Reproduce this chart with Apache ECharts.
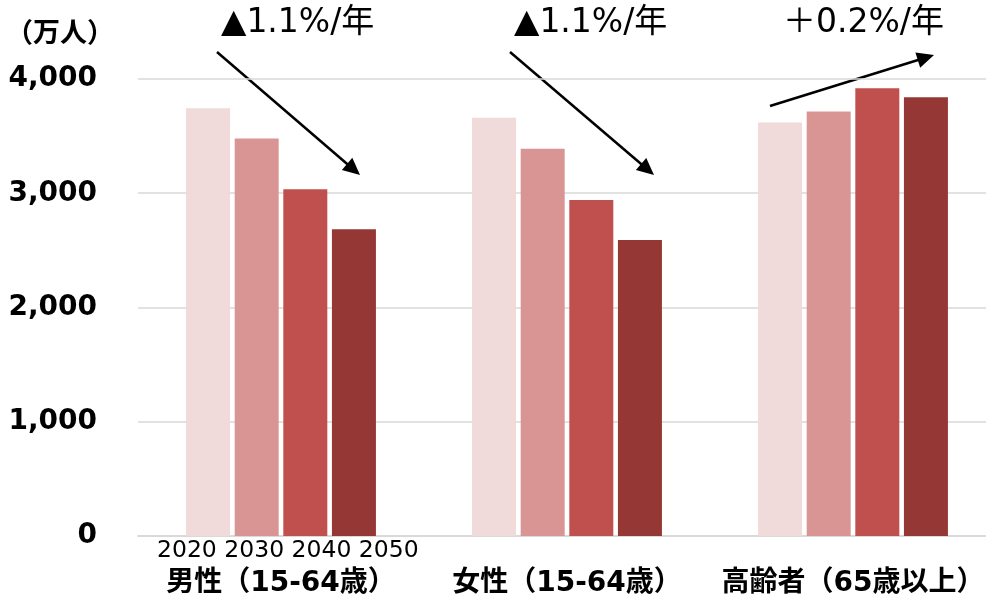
<!DOCTYPE html>
<html>
<head>
<meta charset="utf-8">
<script src="https://cdn.jsdelivr.net/npm/echarts@6/dist/echarts.min.js"></script>
<style>
  html, body { margin: 0; padding: 0; background: #fff; overflow: hidden; }
  #chart { width: 1000px; height: 598px; }
</style>
</head>
<body>
<div id="chart"></div>
<script>
// Working-age and elderly population by year (unit: 10,000 people)
const categories = ['男性（15-64歳）', '女性（15-64歳）', '高齢者（65歳以上）'];
const years = ['2020', '2030', '2040', '2050'];
const values2020 = [3745, 3660, 3620];
const values2030 = [3480, 3390, 3715];
const values2040 = [3035, 2940, 3920];
const values2050 = [2685, 2590, 3840];
const yTicks = { min: 0, max: 4000, interval: 1000 };
const unitLabel = '（万人）';
const trendLabels = ['▲1.1%/年', '▲1.1%/年', '＋0.2%/年'];

const seriesValues = [values2020, values2030, values2040, values2050];
const colors = ['#F0DADA', '#D99594', '#C0504D', '#953735'];

const LATIN = '"DejaVu Sans", "Noto Sans CJK JP", sans-serif';

// Arrow drawn as a line plus a triangular head
function arrow(x1, y1, x2, y2) {
  const dx = x2 - x1, dy = y2 - y1;
  const len = Math.sqrt(dx * dx + dy * dy);
  const ux = dx / len, uy = dy / len;
  const headLen = 17, headHalf = 8;
  const bx = x2 - ux * headLen, by = y2 - uy * headLen;
  const px = -uy, py = ux;
  return [
    {
      type: 'line',
      shape: { x1: x1, y1: y1, x2: bx + ux * 2, y2: by + uy * 2 },
      style: { stroke: '#000', lineWidth: 2.5 }
    },
    {
      type: 'polygon',
      shape: { points: [[x2, y2], [bx + px * headHalf, by + py * headHalf], [bx - px * headHalf, by - py * headHalf]] },
      style: { fill: '#000' }
    }
  ];
}

const chart = echarts.init(document.getElementById('chart'), null, { renderer: 'canvas' });

const option = {
  animation: false,
  backgroundColor: '#fff',
  grid: { left: 138, right: 4, top: 79, bottom: 62, containLabel: false },
  xAxis: {
    type: 'category',
    data: categories,
    axisLine: { show: true, lineStyle: { color: '#d9d9d9', width: 2 } },
    axisTick: { show: false },
    axisLabel: {
      margin: 34,
      color: '#000',
      fontSize: 28,
      fontWeight: 'bold',
      fontFamily: LATIN,
      interval: 0
    }
  },
  yAxis: {
    type: 'value',
    min: yTicks.min,
    max: yTicks.max,
    interval: yTicks.interval,
    axisLine: { show: false },
    axisTick: { show: false },
    splitLine: { lineStyle: { color: '#d9d9d9', width: 1.5 } },
    axisLabel: {
      margin: 41,
      color: '#000',
      fontSize: 28,
      fontWeight: 'bold',
      fontFamily: LATIN,
      formatter: v => v.toLocaleString('en-US')
    }
  },
  series: seriesValues.map((vals, i) => ({
    name: years[i],
    type: 'bar',
    data: vals,
    barWidth: 44,
    barGap: '10.5%',
    itemStyle: { color: colors[i] }
  })),
  graphic: [
    {
      type: 'text',
      x: 6, y: 35,
      style: { text: unitLabel, fill: '#000', font: 'bold 27px ' + LATIN, verticalAlign: 'middle' }
    },
    {
      type: 'text',
      x: 157, y: 551,
      style: { text: years.join(' '), fill: '#000', font: '23.5px ' + LATIN, verticalAlign: 'middle' }
    },
    {
      type: 'text',
      x: 221, y: 23,
      style: { text: trendLabels[0], fill: '#000', font: '33px ' + LATIN, verticalAlign: 'middle' }
    },
    {
      type: 'text',
      x: 514, y: 23,
      style: { text: trendLabels[1], fill: '#000', font: '33px ' + LATIN, verticalAlign: 'middle' }
    },
    {
      type: 'text',
      x: 783, y: 23,
      style: { text: trendLabels[2], fill: '#000', font: '33px ' + LATIN, verticalAlign: 'middle' }
    },
    ...arrow(217, 52, 360, 175),
    ...arrow(510, 52, 654, 175),
    ...arrow(770, 106, 934, 55)
  ]
};

chart.setOption(option);
</script>
</body>
</html>
